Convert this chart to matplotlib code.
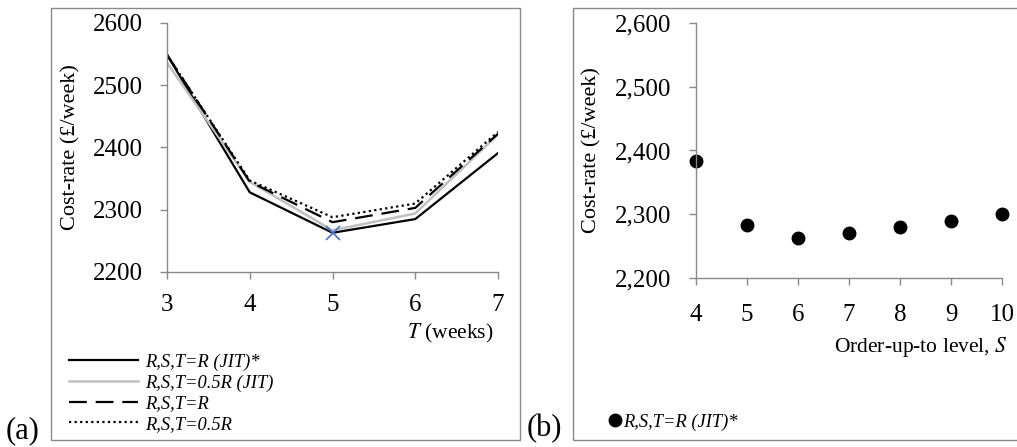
import matplotlib
matplotlib.use("Agg")
import matplotlib.pyplot as plt
from matplotlib.patches import Rectangle
from matplotlib.lines import Line2D
from matplotlib.ticker import FuncFormatter

plt.rcParams["font.family"] = ["Liberation Serif", "DejaVu Serif"]

# --- data -------------------------------------------------------------------
T_weeks = [3, 4, 5, 6, 7]
cost_jit_R = [2549, 2328, 2263, 2285, 2391]      # R,S,T=R (JIT)*
cost_jit_half = [2536, 2345, 2267, 2294, 2421]   # R,S,T=0.5R (JIT)
cost_R = [2549, 2345, 2280, 2303, 2422]          # R,S,T=R
cost_half = [2549, 2347, 2288, 2310, 2425]       # R,S,T=0.5R
opt_T, opt_cost = 5, 2262

S_levels = [4, 5, 6, 7, 8, 9, 10]
cost_S = [2384, 2283, 2263, 2270, 2280, 2290, 2300]

W, H = 1017, 447
SPINE = "#898989"
LEG_FONT = {"size": 13.3, "style": "italic"}

fig = plt.figure(figsize=(W / 100, H / 100), dpi=100)


def fx(px):
    return px / W


def fy(py):
    return 1 - py / H


# outer frames of the two panels
fig.patches.append(Rectangle((fx(51), fy(440)), fx(520 - 51), fy(8) - fy(440),
                             transform=fig.transFigure, fill=False,
                             ec=SPINE, lw=1.0))
fig.patches.append(Rectangle((fx(573), fy(440)), fx(1030 - 573), fy(8) - fy(440),
                             transform=fig.transFigure, fill=False,
                             ec=SPINE, lw=1.0))


def style(ax, xpad, ypad):
    for s in ("top", "right"):
        ax.spines[s].set_visible(False)
    for s in ("left", "bottom"):
        ax.spines[s].set_color(SPINE)
        ax.spines[s].set_linewidth(1.0)
    ax.tick_params(axis="both", colors=SPINE, labelcolor="black",
                   labelsize=18, direction="out", length=5, width=1.0)
    ax.tick_params(axis="x", pad=xpad)
    ax.tick_params(axis="y", pad=ypad)
    ax.set_facecolor("none")


# --- panel (a) --------------------------------------------------------------
axa = fig.add_axes([fx(167), fy(272), fx(498 - 167), fy(23) - fy(272)])
axa.plot(T_weeks, cost_jit_R, color="black", lw=1.6)
axa.plot(T_weeks, cost_jit_half, color="#c0c0c0", lw=1.8)
axa.plot(T_weeks, cost_R, color="black", lw=1.6, dashes=(8, 4))
axa.plot(T_weeks, cost_half, color="black", lw=1.6, dashes=(1, 1.5))
axa.plot([opt_T], [opt_cost], marker="x", color="#4472c4", ms=10, mew=1.2)
axa.set_xlim(3, 7)
axa.set_ylim(2200, 2600)
axa.set_xticks(T_weeks)
axa.set_yticks([2200, 2300, 2400, 2500, 2600])
axa.set_ylabel("Cost-rate (£/week)", fontsize=16, labelpad=9)
style(axa, 11, 12.5)
fig.text(fx(493), fy(333), "$T$ (weeks)", fontsize=15.5, ha="right",
         va="center", math_fontfamily="stix")

handles_a = [Line2D([], [], color="black", lw=1.6),
             Line2D([], [], color="#c0c0c0", lw=1.8),
             Line2D([], [], color="black", lw=1.6, dashes=(8, 4)),
             Line2D([], [], color="black", lw=1.6, dashes=(1, 1.5))]
labels_a = ["R,S,T=R (JIT)*", "R,S,T=0.5R (JIT)", "R,S,T=R", "R,S,T=0.5R"]
fig.legend(handles_a, labels_a, loc="upper left",
           bbox_to_anchor=(fx(60), fy(344)), frameon=False,
           prop=LEG_FONT, handlelength=3.7, handletextpad=0.38,
           labelspacing=0.2, borderpad=0)
fig.text(fx(6), fy(431), "(a)", fontsize=22, va="center")

# --- panel (b) --------------------------------------------------------------
axb = fig.add_axes([fx(696), fy(278), fx(1002 - 696), fy(23) - fy(278)])
axb.plot(S_levels, cost_S, "o", color="black", ms=9, clip_on=False)
axb.set_xlim(4, 10)
axb.set_ylim(2200, 2600)
axb.set_xticks(S_levels)
axb.set_yticks([2200, 2300, 2400, 2500, 2600])
axb.yaxis.set_major_formatter(FuncFormatter(lambda v, p: f"{v:,.0f}"))
axb.set_ylabel("Cost-rate (£/week)", fontsize=16, labelpad=10)
style(axb, 14, 12.5)
fig.text(fx(1008), fy(347), "Order-up-to level, $S$", fontsize=15.5,
         ha="right", va="center", math_fontfamily="stix")

fig.legend([Line2D([], [], marker="o", color="black", ls="none", ms=9)],
           ["R,S,T=R (JIT)*"], loc="center left",
           bbox_to_anchor=(fx(598), fy(422)), frameon=False,
           prop=LEG_FONT, handlelength=0.8, handletextpad=0.05, borderpad=0)
fig.text(fx(527), fy(429), "(b)", fontsize=22, va="center")

fig.savefig("out.png", dpi=100)
